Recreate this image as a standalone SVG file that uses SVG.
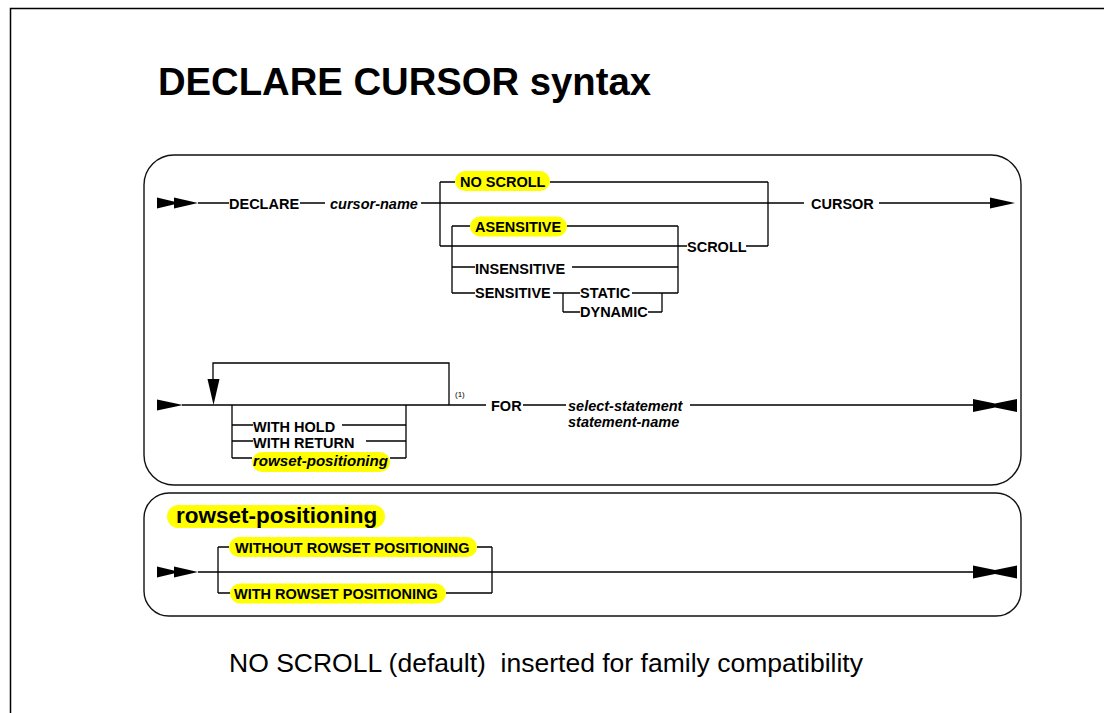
<svg xmlns="http://www.w3.org/2000/svg" width="1104" height="713" viewBox="0 0 1104 713">
  <style>
    .ln { stroke: #000; stroke-width: 1.3; fill: none; }
    .box { stroke: #111; stroke-width: 1.4; fill: none; }
    .frame { stroke: #000; stroke-width: 1.5; fill: none; }
    .kw { font-family: "Liberation Sans", Arial, sans-serif; font-weight: bold; font-size: 14.5px; fill: #000; }
    .var { font-family: "Liberation Sans", Arial, sans-serif; font-weight: bold; font-style: italic; font-size: 14.5px; fill: #000; }
    .hl { fill: #ffff00; }
    .title { font-family: "Liberation Sans", Arial, sans-serif; font-weight: bold; font-size: 38px; fill: #000; }
    .note { font-family: "Liberation Sans", Arial, sans-serif; font-size: 26px; fill: #000; white-space: pre; }
    .ref { font-family: "Liberation Sans", Arial, sans-serif; font-size: 8px; fill: #000; }
    .arrow { fill: #000; }
  </style>
  <defs>
    <!-- statement start: two stacked right-pointing heads -->
    <g id="start2">
      <polygon points="0,-5.5 23,0 0,5.5"/>
      <polygon points="17,-5.5 41,0 17,5.5"/>
    </g>
    <!-- statement continues on next line -->
    <polygon id="head" points="0,-5.5 25,0 0,5.5"/>
    <!-- statement end -->
    <polygon id="stop" points="0,-6.5 22,-2 44,-6.5 44,6.5 22,2 0,6.5"/>
  </defs>

  <rect width="1104" height="713" fill="#fff"/>
  <path class="frame" d="M10.5,713 V8.5 H1104"/>

  <text id="title" class="title" x="158" y="95" textLength="493" lengthAdjust="spacingAndGlyphs">DECLARE CURSOR syntax</text>

  <!-- diagram panels -->
  <rect id="panel-main" class="box" x="144" y="155" width="877" height="330" rx="30"/>
  <rect id="panel-rowset" class="box" x="144" y="493" width="877" height="123" rx="25"/>

  <!-- connectors -->
  <g id="connectors">
    <!-- first line: DECLARE ... CURSOR -->
    <use href="#start2" class="arrow" transform="translate(157,203)"/>
    <path class="ln" d="M198,203 H229 M300,203 H325 M421,203 H804 M879,203 H990"/>
    <use href="#head" class="arrow" transform="translate(990,203)"/>
    <!-- NO SCROLL / SCROLL choice -->
    <path class="ln" d="M440,182 V246 M768,182 V246 M440,182 H455 M550,182 H768 M440,246 H687 M746,246 H768"/>
    <!-- sensitivity choice -->
    <path class="ln" d="M452,226 V293 M678,226 V293 M452,226 H470 M567,226 H678 M452,267 H475 M572,267 H678 M452,293 H475 M553,293 H563 M563,293 V312 M563,293 H580 M632,293 H678 M662,293 V312 M563,312 H580 M648,312 H662"/>

    <!-- second line: options ... FOR -->
    <use href="#head" class="arrow" transform="translate(157,405) scale(1.04,1)"/>
    <path class="ln" d="M182,405 H486 M449,405 V363 H213 V380"/>
    <polygon class="arrow" points="207.5,379 219.5,379 213.5,405"/>
    <path class="ln" d="M232,405 V458 M406,405 V458 M232,425 H253 M342,425 H406 M232,441 H253 M366,441 H406 M232,458 H252 M390,458 H406"/>
    <path class="ln" d="M523,405 H566 M690,405 H973"/>
    <use href="#stop" class="arrow" transform="translate(973,405.5)"/>

    <!-- rowset-positioning fragment -->
    <use href="#start2" class="arrow" transform="translate(157,572)"/>
    <path class="ln" d="M198,572 H973 M218,547 V593 M492,547 V593 M218,547 H229 M477,547 H492 M218,593 H230 M446,593 H492"/>
    <use href="#stop" class="arrow" transform="translate(973,572)"/>
  </g>

  <!-- keywords and variables -->
  <g id="n-declare"><text class="kw" x="229" y="208.5">DECLARE</text></g>
  <g id="n-cursor-name"><text class="var" x="330" y="208.5">cursor-name</text></g>
  <g id="n-no-scroll">
    <rect class="hl" x="455" y="171" width="95" height="20" rx="10"/>
    <text class="kw" x="460" y="187">NO SCROLL</text>
  </g>
  <g id="n-asensitive">
    <rect class="hl" x="470" y="216.5" width="97" height="20" rx="10"/>
    <text class="kw" x="475" y="232">ASENSITIVE</text>
  </g>
  <g id="n-scroll"><text class="kw" x="687" y="252">SCROLL</text></g>
  <g id="n-insensitive"><text class="kw" x="475" y="274">INSENSITIVE</text></g>
  <g id="n-sensitive"><text class="kw" x="475" y="298">SENSITIVE</text></g>
  <g id="n-static"><text class="kw" x="580" y="298">STATIC</text></g>
  <g id="n-dynamic"><text class="kw" x="580" y="317">DYNAMIC</text></g>
  <g id="n-cursor"><text class="kw" x="811" y="208.5">CURSOR</text></g>

  <g id="n-note-ref"><text class="ref" x="455" y="397">(1)</text></g>
  <g id="n-with-hold"><text class="kw" x="253" y="431.5">WITH HOLD</text></g>
  <g id="n-with-return"><text class="kw" x="253" y="448">WITH RETURN</text></g>
  <g id="n-rowset-ref">
    <rect class="hl" x="252" y="452" width="138" height="20" rx="10"/>
    <text class="var" x="253" y="466" textLength="135" lengthAdjust="spacingAndGlyphs">rowset-positioning</text>
  </g>
  <g id="n-for"><text class="kw" x="491" y="410.5">FOR</text></g>
  <g id="n-select-statement"><text class="var" x="568" y="410.5">select-statement</text></g>
  <g id="n-statement-name"><text class="var" x="568" y="426.5">statement-name</text></g>

  <g id="n-rowset-title">
    <rect class="hl" x="167" y="505" width="218" height="23" rx="11.5"/>
    <text class="kw" x="176" y="523" style="font-size:22.5px">rowset-positioning</text>
  </g>
  <g id="n-without-rowset">
    <rect class="hl" x="229" y="537" width="248" height="20" rx="10"/>
    <text class="kw" x="235" y="552.5">WITHOUT ROWSET POSITIONING</text>
  </g>
  <g id="n-with-rowset">
    <rect class="hl" x="230" y="583.5" width="216" height="20" rx="10"/>
    <text class="kw" x="234" y="599">WITH ROWSET POSITIONING</text>
  </g>

  <text id="footnote" class="note" x="229" y="672" textLength="634" lengthAdjust="spacingAndGlyphs">NO SCROLL (default)  inserted for family compatibility</text>
</svg>
